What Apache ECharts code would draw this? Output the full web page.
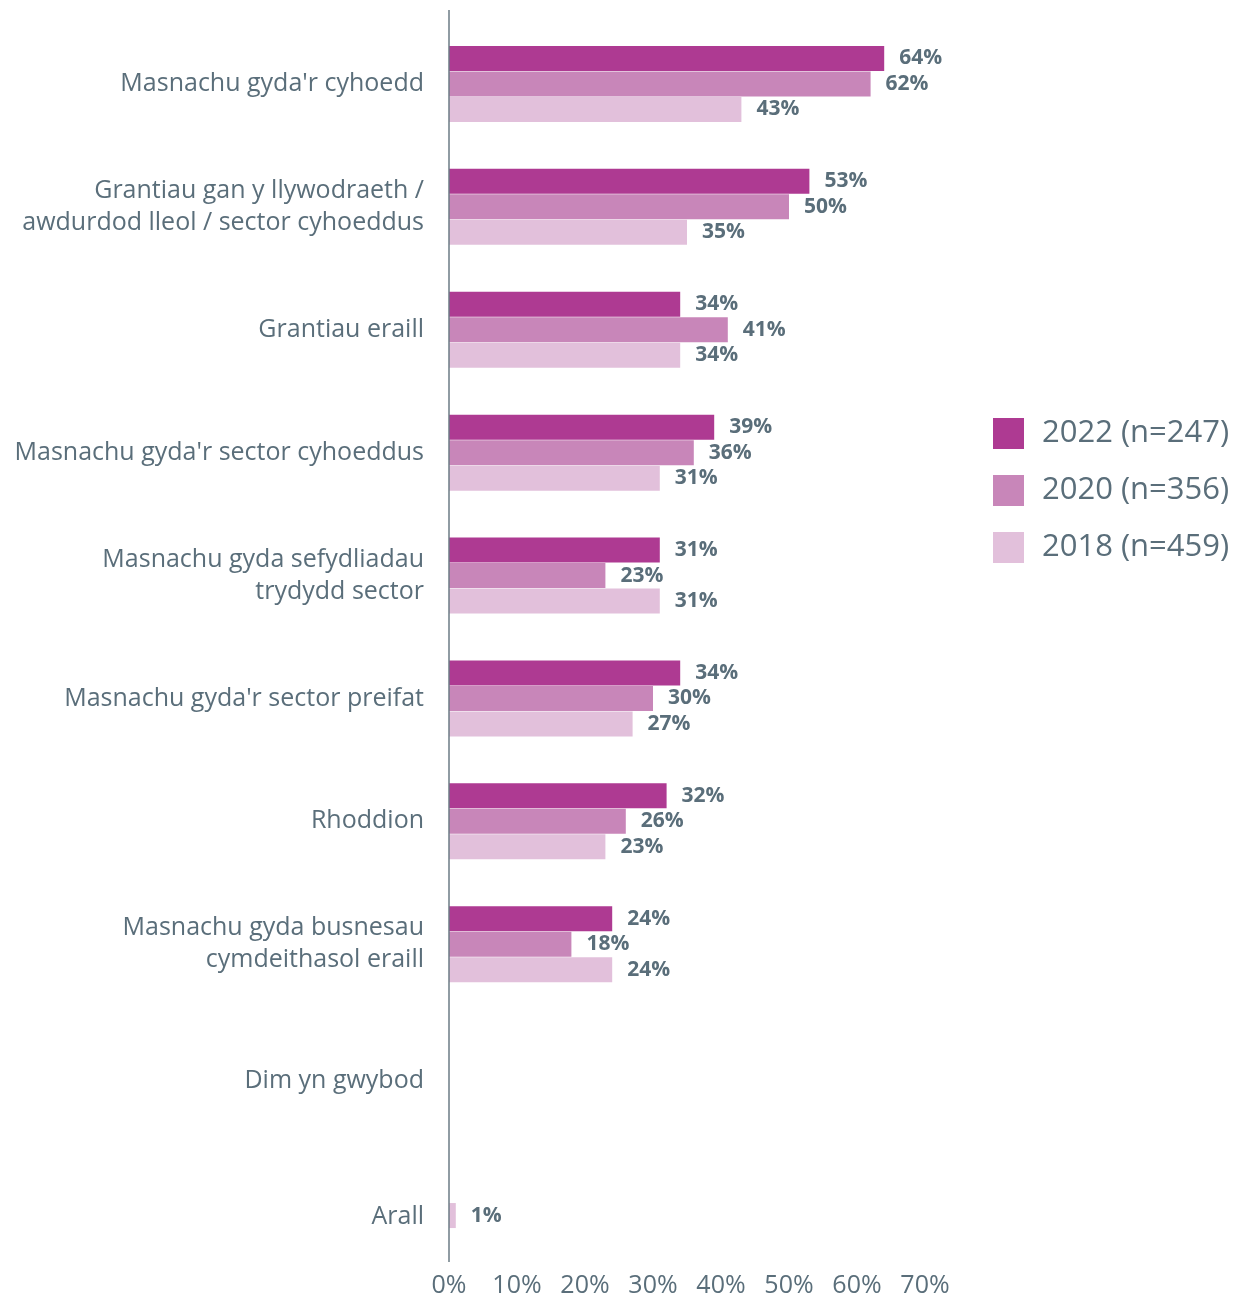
<!DOCTYPE html>
<html><head><meta charset="utf-8">
<script src="https://cdn.jsdelivr.net/npm/echarts@6/dist/echarts.min.js"></script>
<style>html,body{margin:0;padding:0;background:#fff}#c{width:1239px;height:1299px}</style>
</head><body><div id="c"></div>
<script>
const categories = [
  "Masnachu gyda'r cyhoedd",
  "Grantiau gan y llywodraeth /\nawdurdod lleol / sector cyhoeddus",
  "Grantiau eraill",
  "Masnachu gyda'r sector cyhoeddus",
  "Masnachu gyda sefydliadau\ntrydydd sector",
  "Masnachu gyda'r sector preifat",
  "Rhoddion",
  "Masnachu gyda busnesau\ncymdeithasol eraill",
  "Dim yn gwybod",
  "Arall"
];
const seriesNames = ["2022 (n=247)", "2020 (n=356)", "2018 (n=459)"];
const values2022 = [64, 53, 34, 39, 31, 34, 32, 24, null, null];
const values2020 = [62, 50, 41, 36, 23, 30, 26, 18, null, null];
const values2018 = [43, 35, 34, 31, 31, 27, 23, 24, null, 1];
const xTicks = [0, 10, 20, 30, 40, 50, 60, 70];
const colors = ["#ae3a92", "#c886b9", "#e2c0db"];
const textColor = "#5a6e7a";

const chart = echarts.init(document.getElementById('c'));
const allValues = [values2022, values2020, values2018];
chart.setOption({
  animation: false,
  textStyle: { fontFamily: "Open Sans" },
  grid: { left: 449, right: 314, top: 22.5, bottom: 47.5, containLabel: false },
  legend: {
    orient: 'vertical', left: 988, top: 413,
    itemWidth: 31, itemHeight: 31, itemGap: 26,
    icon: 'rect',
    textStyle: { fontSize: 31, color: textColor, fontFamily: "Open Sans", padding: [0, 0, 0, 13] },
    data: seriesNames
  },
  xAxis: {
    type: 'value', min: xTicks[0], max: xTicks[xTicks.length - 1], interval: 10,
    splitLine: { show: false }, axisLine: { show: false }, axisTick: { show: false },
    axisLabel: { formatter: '{value}%', fontSize: 25, color: textColor, margin: 22, fontFamily: "Open Sans" }
  },
  yAxis: {
    type: 'category', data: categories, inverse: true,
    axisLine: { show: false }, axisTick: { show: false },
    axisLabel: {
      fontSize: 25, color: textColor, margin: 25, lineHeight: 32, align: 'right', fontFamily: "Open Sans",
      formatter: (v, idx) => idx === 8 ? '{s1|' + v + '}' : (idx === 9 ? '{s2|' + v + '}' : v),
      rich: {
        s1: { fontSize: 25, color: textColor, lineHeight: 32, fontFamily: "Open Sans", padding: [28, 0, 0, 0] },
        s2: { fontSize: 25, color: textColor, lineHeight: 32, fontFamily: "Open Sans", padding: [54, 0, 0, 0] }
      }
    }
  },
  graphic: [{
    type: 'line', shape: { x1: 449, y1: 10, x2: 449, y2: 1262 },
    style: { stroke: '#6b7b85', lineWidth: 1.5 }, z: 10
  }],
  series: seriesNames.map((n, i) => ({
    name: n, type: 'bar', data: allValues[i],
    barWidth: 25, barGap: '2%', barCategoryGap: '38%',
    itemStyle: { color: colors[i] },
    label: {
      show: true, position: 'right', distance: 15, formatter: p => p.value == null ? '' : p.value + '%',
      fontSize: 21, fontWeight: 'bold', color: textColor, fontFamily: "Open Sans"
    }
  }))
});
</script></body></html>
